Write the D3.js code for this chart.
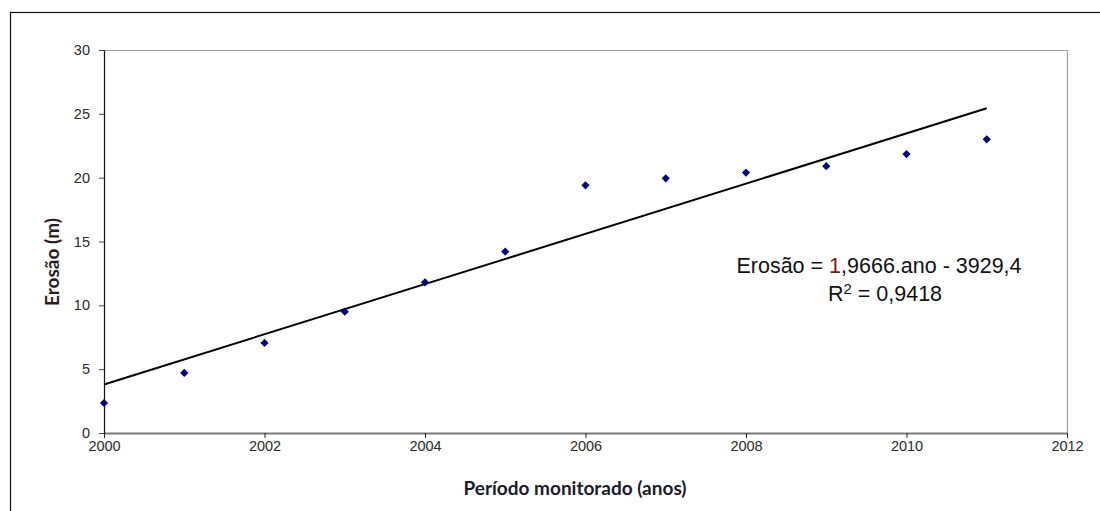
<!DOCTYPE html>
<html>
<head>
<meta charset="utf-8">
<script src="https://cdn.jsdelivr.net/npm/d3@7"></script>
<style>
    html, body { margin: 0; padding: 0; background: #fff; }
    svg { display: block; }
</style>
</head>
<body>
<svg id="chart" width="1100" height="511"></svg>
<script>
// data
const years = [2000, 2001, 2002, 2003, 2004, 2005, 2006, 2007, 2008, 2009, 2010, 2011];
const erosion = [2.35, 4.7, 7.05, 9.5, 11.8, 14.2, 19.4, 19.95, 20.4, 20.9, 21.85, 23.0];
const xTicks = [2000, 2002, 2004, 2006, 2008, 2010, 2012];
const yTicks = [0, 5, 10, 15, 20, 25, 30];
// trendline as printed on the chart
const trendSlope = 1.9666;
const trendIntercept = -3929.4;
const eqLine1 = ['Erosão = ', '1', ',9666.ano - 3929,4'];
const eqLine2 = ['R', '2', ' = 0,9418'];

const width = 1100;
const height = 511;
const margin = { top: 50, right: 33, bottom: 78, left: 104 };

const svg = d3.select('#chart');

// outer frame
svg.append('rect')
    .attr('x', 10.5)
    .attr('y', 12.5)
    .attr('width', width + 20)
    .attr('height', height + 20)
    .attr('fill', 'none')
    .attr('stroke', '#111')
    .attr('stroke-width', 1.2);

const x = d3.scaleLinear().domain([2000, 2012]).range([margin.left, width - margin.right]);
const y = d3.scaleLinear().domain([0, 30]).range([height - margin.bottom, margin.top]);

// plot area top/right border
svg.append('path')
    .attr('d', `M${x(2000)},${y(30) + 0.5}H${x(2012) + 0.5}V${y(0)}`)
    .attr('fill', 'none')
    .attr('stroke', '#a0a0a0')
    .attr('stroke-width', 1.2);

const tickFont = g => g.selectAll('text')
    .attr('font-family', 'Liberation Sans, Arial, sans-serif')
    .attr('font-size', 14.5)
    .attr('fill', '#2a2a2a');

const xAxis = svg.append('g')
    .attr('transform', `translate(0,${y(0)})`)
    .call(d3.axisBottom(x).tickValues(xTicks).tickFormat(d3.format('d')).tickSize(5).tickPadding(3).tickSizeOuter(0))
    .call(tickFont);
xAxis.select('.domain').attr('stroke', '#7a7a7a').attr('stroke-width', 2);
xAxis.selectAll('.tick line').attr('stroke', '#222');

const yAxis = svg.append('g')
    .attr('transform', `translate(${x(2000)},0)`)
    .call(d3.axisLeft(y).tickValues(yTicks).tickSize(5).tickPadding(9).tickSizeOuter(0))
    .call(tickFont);
yAxis.select('.domain').attr('stroke', '#111').attr('stroke-width', 1.2);
yAxis.selectAll('.tick line').attr('stroke', '#444');

// trendline
svg.append('line')
    .attr('x1', x(years[0]))
    .attr('y1', y(trendSlope * years[0] + trendIntercept))
    .attr('x2', x(years[years.length - 1]))
    .attr('y2', y(trendSlope * years[years.length - 1] + trendIntercept))
    .attr('stroke', '#000')
    .attr('stroke-width', 2);

// points (square diamonds)
svg.append('g')
    .selectAll('path')
    .data(years.map((yr, i) => ({ yr, v: erosion[i] })))
    .join('path')
    .attr('d', d3.symbol(d3.symbolSquare, 34))
    .attr('transform', d => `translate(${x(d.yr)},${y(d.v)}) rotate(45)`)
    .attr('fill', '#00007f');

// equation
const eq = svg.append('text')
    .attr('x', 879)
    .attr('y', 273)
    .attr('text-anchor', 'middle')
    .attr('font-family', 'Liberation Sans, Arial, sans-serif')
    .attr('font-size', 21.5)
    .attr('fill', '#111');
eq.append('tspan').text(eqLine1[0]);
eq.append('tspan').attr('fill', '#7a1414').text(eqLine1[1]);
eq.append('tspan').text(eqLine1[2]);

const r2 = svg.append('text')
    .attr('x', 885)
    .attr('y', 301)
    .attr('text-anchor', 'middle')
    .attr('font-family', 'Liberation Sans, Arial, sans-serif')
    .attr('font-size', 21.5)
    .attr('fill', '#111');
r2.append('tspan').text(eqLine2[0]);
r2.append('tspan').attr('font-size', 15).attr('dy', -7).text(eqLine2[1]);
r2.append('tspan').attr('dy', 7).text(eqLine2[2]);

// axis titles
svg.append('text')
    .attr('x', 575)
    .attr('y', 495)
    .attr('text-anchor', 'middle')
    .attr('font-family', 'Lato, Open Sans, sans-serif')
    .attr('font-weight', 'bold')
    .attr('font-size', 19)
    .attr('fill', '#1a1a2a')
    .text('Período monitorado (anos)');

svg.append('text')
    .attr('transform', 'translate(59,262) rotate(-90)')
    .attr('text-anchor', 'middle')
    .attr('font-family', 'Lato, Open Sans, sans-serif')
    .attr('font-weight', 'bold')
    .attr('font-size', 19)
    .attr('fill', '#2a1a1a')
    .text('Erosão (m)');
</script>
</body>
</html>
